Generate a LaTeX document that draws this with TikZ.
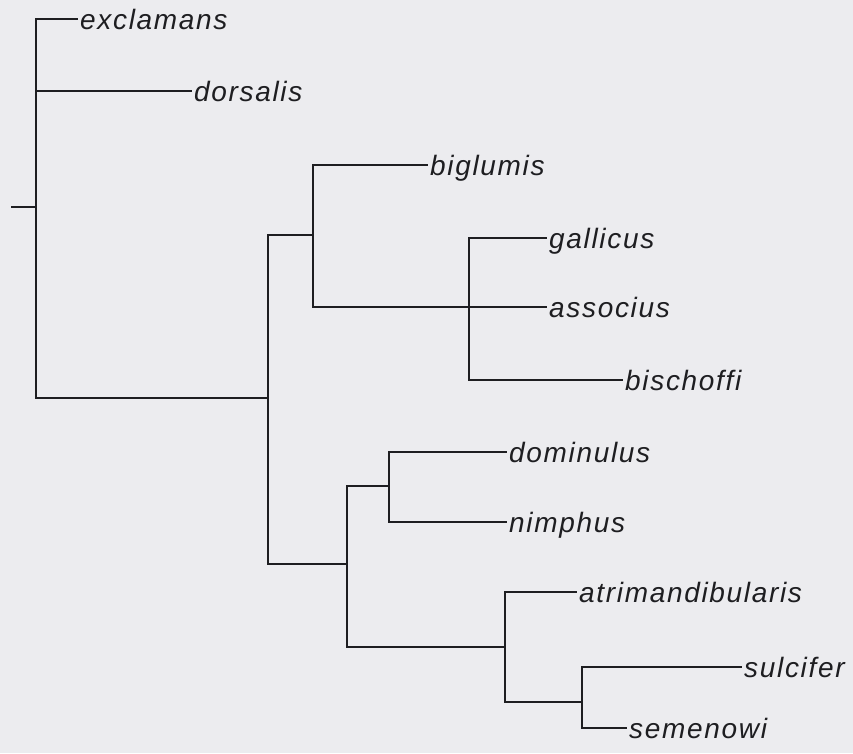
\documentclass[tikz,border=0pt]{standalone}
\usepackage{fontspec}
\setmainfont{Liberation Sans}
\newfontfamily\taxonfont[LetterSpace=6]{Liberation Sans}
\usepackage{tikz}
\usetikzlibrary{calc}

\definecolor{paper}{RGB}{236,236,239}
\definecolor{ink}{RGB}{30,30,33}

\begin{document}
\begin{tikzpicture}[x=1pt, y=-1pt,
        branch/.style={draw=ink, line width=2.2pt},
        taxon/.style={anchor=west, inner xsep=2pt, inner ysep=0pt, text height=21pt, text depth=0pt, text=ink,
            font={\fontsize{28}{30}\selectfont\taxonfont\itshape}}]
        % Paper
        \fill[paper] (0,0) rectangle (853,753);
        \useasboundingbox (0,0) rectangle (853,753);

        % Define internal nodes of the tree
        \coordinate (R_0) at (11,207);
        \coordinate (R) at (36,207);
        \coordinate (A) at (268,398);
        \coordinate (B) at (313,235);
        \coordinate (C) at (347,564);
        \coordinate (E) at (469,307);
        \coordinate (F) at (389,486);
        \coordinate (G) at (505,647);
        \coordinate (H) at (582,702);

        % Add taxa
        \node[taxon] (exclamans) at (78,19) {exclamans};
        \node[taxon] (dorsalis) at (192,91) {dorsalis};
        \node[taxon] (biglumis) at (428,165) {biglumis};
        \node[taxon] (gallicus) at (547,238) {gallicus};
        \node[taxon] (associus) at (547,307) {associus};
        \node[taxon] (bischoffi) at (623,380) {bischoffi};
        \node[taxon] (dominulus) at (507,452) {dominulus};
        \node[taxon] (nimphus) at (507,522) {nimphus};
        \node[taxon] (atrimandibularis) at (577,592) {atrimandibularis};
        \node[taxon] (sulcifer) at (742,667) {sulcifer};
        \node[taxon] (semenowi) at (627,728) {semenowi};

        % Draw branches
        \draw[branch] (R_0) -- (R);
        \draw[branch] (R) |- (exclamans.west);
        \draw[branch] (R) |- (dorsalis.west);
        \draw[branch] (R) |- (A);

        \draw[branch] (A) |- (B);
        \draw[branch] (A) |- (C);

        \draw[branch] (B) |- (biglumis.west);
        \draw[branch] (B) |- (associus.west);
        \draw[branch] (E) |- (gallicus.west);
        \draw[branch] (E) |- (bischoffi.west);

        \draw[branch] (C) |- (F);
        \draw[branch] (C) |- (G);
        \draw[branch] (F) |- (dominulus.west);
        \draw[branch] (F) |- (nimphus.west);

        \draw[branch] (G) |- (atrimandibularis.west);
        \draw[branch] (G) |- (H);
        \draw[branch] (H) |- (sulcifer.west);
        \draw[branch] (H) |- (semenowi.west);

    \end{tikzpicture}
\end{document}
